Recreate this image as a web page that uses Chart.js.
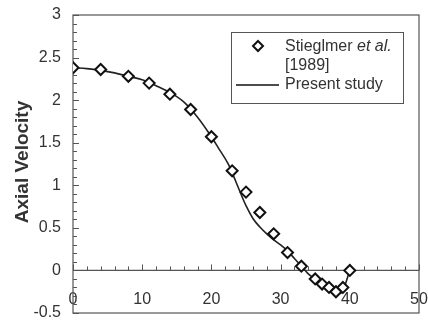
<!DOCTYPE html>
<html>
<head>
<meta charset="utf-8">
<script src="https://cdn.jsdelivr.net/npm/chart.js@4/dist/chart.umd.min.js"></script>
<style>
  html, body { margin: 0; padding: 0; background: #fff; }
  #wrap { width: 428px; height: 323px; position: relative; }
</style>
</head>
<body>
<div id="wrap"><canvas id="c"></canvas></div>
<script>
// Experimental data: Stieglmer et al. [1989]
const expX = [0, 4, 8, 11, 14, 17, 20, 23, 25, 27, 29, 31, 33, 35, 36, 37, 38, 39, 40];
const expY = [2.38, 2.36, 2.28, 2.20, 2.07, 1.89, 1.57, 1.17, 0.92, 0.68, 0.43, 0.21, 0.05, -0.10, -0.16, -0.20, -0.25, -0.20, 0.0];
// Present study curve
const lineX = [0, 2, 4, 6, 8, 10, 12, 14, 16, 18, 20, 21, 22.5, 23.5, 24, 25, 26, 27, 28, 29, 30, 31, 32, 33, 34, 35, 36, 37, 38, 38.7, 40];
const lineY = [2.38, 2.37, 2.35, 2.32, 2.28, 2.24, 2.17, 2.09, 1.98, 1.80, 1.57, 1.44, 1.24, 1.05, 0.95, 0.76, 0.61, 0.51, 0.43, 0.36, 0.30, 0.23, 0.14, 0.05, -0.04, -0.10, -0.15, -0.20, -0.24, -0.27, 0.0];
// Axis ticks
const xTicks = [0, 10, 20, 30, 40, 50];
const yTicks = [-0.5, 0, 0.5, 1, 1.5, 2, 2.5, 3];
const yTitle = 'Axial Velocity';
const legendExp = ['Stieglmer ', 'et al.', '[1989]'];
const legendLine = 'Present study';

const FONT = '"Liberation Sans", Arial, sans-serif';
const AX = '#555';

function zeroPad(s) { s.paddingLeft = 0; s.paddingRight = 0; s.paddingTop = 0; s.paddingBottom = 0; }

const decor = {
  id: 'decor',
  beforeDatasetsDraw(chart) {
    const {ctx, chartArea: a, scales: {x, y}} = chart;
    ctx.save();
    ctx.strokeStyle = AX;
    ctx.lineWidth = 1.2;
    ctx.strokeRect(a.left, a.top, a.right - a.left, a.bottom - a.top);
    const y0 = y.getPixelForValue(0);
    ctx.beginPath(); ctx.moveTo(a.left, y0); ctx.lineTo(a.right, y0); ctx.stroke();
    ctx.lineWidth = 1;
    for (let i = -5; i <= 30; i++) {
      const v = i / 10;
      const py = Math.round(y.getPixelForValue(v)) + 0.5;
      const len = (i % 5 === 0) ? 6 : 4;
      ctx.beginPath(); ctx.moveTo(a.left, py); ctx.lineTo(a.left + len, py); ctx.stroke();
    }
    for (let v = 0; v <= 50; v += 2) {
      const px = Math.round(x.getPixelForValue(v)) + 0.5;
      const len = (v % 10 === 0) ? 6 : 4;
      ctx.beginPath(); ctx.moveTo(px, y0); ctx.lineTo(px, y0 - len); ctx.stroke();
    }
    ctx.restore();
  },
  afterDraw(chart) {
    const {ctx} = chart;
    ctx.save();
    ctx.fillStyle = '#333';
    ctx.font = 'bold 19px ' + FONT;
    ctx.textAlign = 'center';
    ctx.textBaseline = 'middle';
    ctx.translate(23, 162);
    ctx.rotate(-Math.PI / 2);
    ctx.fillText(yTitle, 0, 0);
    ctx.restore();

    ctx.save();
    ctx.fillStyle = '#fff';
    ctx.fillRect(231, 32, 172, 71);
    ctx.strokeStyle = AX;
    ctx.lineWidth = 1;
    ctx.strokeRect(231.5, 32.5, 172, 71);
    ctx.strokeStyle = '#111';
    ctx.lineWidth = 2;
    ctx.beginPath();
    ctx.moveTo(258, 41); ctx.lineTo(263, 46); ctx.lineTo(258, 51); ctx.lineTo(253, 46); ctx.closePath();
    ctx.stroke();
    ctx.lineWidth = 1.6;
    ctx.beginPath(); ctx.moveTo(236, 85); ctx.lineTo(279, 85); ctx.stroke();
    ctx.fillStyle = '#333';
    ctx.textBaseline = 'middle';
    ctx.textAlign = 'left';
    ctx.font = '16px ' + FONT;
    ctx.fillText(legendExp[0], 285, 47);
    const w = ctx.measureText(legendExp[0]).width;
    ctx.font = 'italic 16px ' + FONT;
    ctx.fillText(legendExp[1], 285 + w, 47);
    ctx.font = '16px ' + FONT;
    ctx.fillText(legendExp[2], 285, 66);
    ctx.fillText(legendLine, 285, 85);
    ctx.restore();
  }
};

new Chart(document.getElementById('c'), {
  type: 'scatter',
  data: {
    datasets: [
      {
        label: 'Present study',
        type: 'line',
        data: lineX.map((v, i) => ({x: v, y: lineY[i]})),
        borderColor: '#222',
        borderWidth: 1.6,
        pointRadius: 0,
        fill: false,
        cubicInterpolationMode: 'monotone',
        order: 2
      },
      {
        label: 'Stieglmer et al. [1989]',
        data: expX.map((v, i) => ({x: v, y: expY[i]})),
        pointStyle: 'rectRot',
        pointRadius: 5.5,
        borderColor: '#111',
        borderWidth: 2,
        backgroundColor: '#fff',
        order: 1
      }
    ]
  },
  options: {
    responsive: true,
    maintainAspectRatio: false,
    animation: false,
    layout: { padding: { top: 15, bottom: 10, right: 9, left: 0 } },
    plugins: { legend: { display: false }, tooltip: { enabled: false } },
    scales: {
      x: {
        type: 'linear',
        position: { y: 0 },
        min: 0, max: 50,
        afterBuildTicks: (s) => { s.ticks = xTicks.map(v => ({value: v})); },
        afterFit: (s) => { s.height = 0; zeroPad(s); },
        ticks: { autoSkip: false, maxRotation: 0, padding: 20, color: '#333', font: { family: FONT, size: 16 } },
        grid: { display: false, drawTicks: false },
        border: { display: false }
      },
      y: {
        type: 'linear',
        min: -0.5, max: 3,
        afterBuildTicks: (s) => { s.ticks = yTicks.map(v => ({value: v})); },
        afterFit: (s) => { s.width = 73; zeroPad(s); },
        ticks: { padding: 12, color: '#333', font: { family: FONT, size: 16 }, callback: (v) => String(v) },
        grid: { display: false, drawTicks: false },
        border: { display: false }
      }
    }
  },
  plugins: [decor]
});
</script>
</body>
</html>
